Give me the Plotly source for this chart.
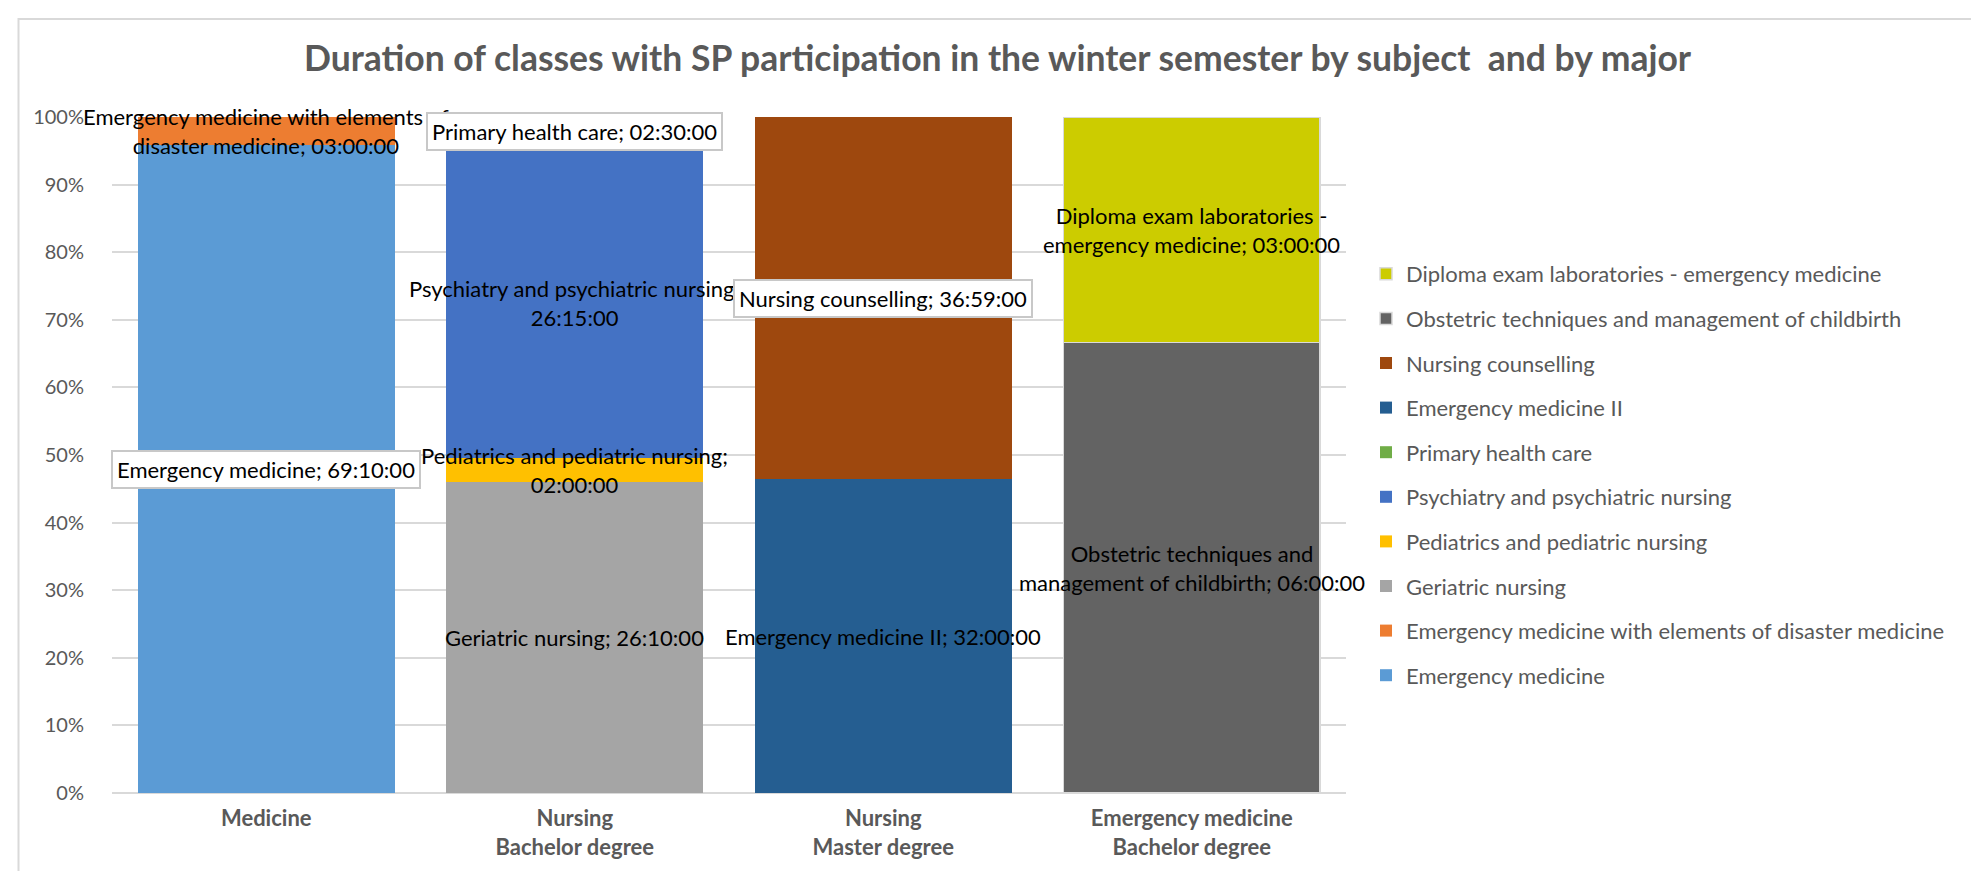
import plotly.graph_objects as go

# ---------------- data ----------------
majors = ["Medicine", "Nursing<br>Bachelor degree", "Nursing<br>Master degree",
          "Emergency medicine<br>Bachelor degree"]

subjects = [
    "Emergency medicine",
    "Emergency medicine with elements of disaster medicine",
    "Geriatric nursing",
    "Pediatrics and pediatric nursing",
    "Psychiatry and psychiatric nursing",
    "Primary health care",
    "Emergency medicine II",
    "Nursing counselling",
    "Obstetric techniques and management of childbirth",
    "Diploma exam laboratories - emergency medicine",
]
subject_major = [0, 0, 1, 1, 1, 1, 2, 2, 3, 3]
durations = ["69:10:00", "03:00:00", "26:10:00", "02:00:00", "26:15:00",
             "02:30:00", "32:00:00", "36:59:00", "06:00:00", "03:00:00"]
label_texts = [
    "Emergency medicine; 69:10:00",
    "Emergency medicine with elements of<br>disaster medicine; 03:00:00",
    "Geriatric nursing; 26:10:00",
    "Pediatrics and pediatric nursing;<br>02:00:00",
    "Psychiatry and psychiatric nursing;<br>26:15:00",
    "Primary health care; 02:30:00",
    "Emergency medicine II; 32:00:00",
    "Nursing counselling; 36:59:00",
    "Obstetric techniques and<br>management of childbirth; 06:00:00",
    "Diploma exam laboratories -<br>emergency medicine; 03:00:00",
]
label_boxed = [True, False, False, False, False, True, False, True, False, False]

colors = ["#5B9BD5", "#ED7D31", "#A5A5A5", "#FFC000", "#4472C4", "#70AD47",
          "#255E91", "#9E480E", "#636363", "#CCCC00"]
outlined = [False] * 8 + [True, True]


def to_hours(s):
    h, m, sec = (int(p) for p in s.split(":"))
    return h + m / 60 + sec / 3600


hours = [to_hours(d) for d in durations]

# ---------------- geometry ----------------
W, H = 1979, 871
PL, PR, PT, PB = 104, 1338, 109, 785  # plot area in px
GREY = "#595959"
FONT = "Lato"

fig = go.Figure()
n = len(subjects)
for i, name in enumerate(subjects):
    y = [None] * len(majors)
    y[subject_major[i]] = hours[i]
    fig.add_trace(go.Bar(
        x=majors, y=y, name=name, legendgroup=name, legendrank=100 + (n - i),
        marker=dict(color=colors[i],
                    line=dict(color="#D9D9D9" if outlined[i] else colors[i],
                              width=1.5 if outlined[i] else 0)),
        hoverinfo="skip",
    ))

# segment centres (percent) for labels
totals = [0.0] * len(majors)
for i in range(n):
    totals[subject_major[i]] += hours[i]
cum = [0.0] * len(majors)
plain, boxed = [], []
for i in range(n):
    m = subject_major[i]
    pct = hours[i] / totals[m] * 100
    centre = cum[m] + pct / 2
    cum[m] += pct
    ann = dict(x=majors[m], y=centre, xref="x", yref="y", text=label_texts[i],
               showarrow=False, font=dict(family=FONT, size=22, color="#000000"),
               align="center")
    if label_boxed[i]:
        ann.update(bgcolor="white", bordercolor="#C8C8C8", borderwidth=2, borderpad=4)
        boxed.append(ann)
    else:
        plain.append(ann)

pw, ph = PR - PL, PB - PT


def px_x(px):
    return (px - PL) / pw


def px_y(py):
    return (PB - py) / ph


fig.update_layout(
    width=W, height=H,
    margin=dict(l=PL, r=W - PR, t=PT, b=H - PB, autoexpand=False),
    paper_bgcolor="white", plot_bgcolor="white",
    barmode="stack", barnorm="percent", bargap=0.167,
    title=dict(text="Duration of classes with SP participation in the winter semester by subject  and by major",
               x=0.5, xanchor="center", y=1 - 51 / H, yanchor="middle",
               font=dict(family=FONT, size=35.5, color=GREY, weight="bold")),
    font=dict(family=FONT, color=GREY),
    xaxis=dict(type="category", range=[-0.5, len(majors) - 0.5], autorange=False,
               showgrid=False, showline=False, ticks="",
               tickfont=dict(family=FONT, size=22, color=GREY, weight="bold"),
               ticklabelstandoff=10),
    yaxis=dict(range=[0, 100], autorange=False, dtick=10, ticksuffix="%", showgrid=True,
               gridcolor="#D9D9D9", gridwidth=1.5, zeroline=True, zerolinecolor="#D9D9D9",
               zerolinewidth=1.5, showline=False, ticks="",
               tickfont=dict(family=FONT, size=20, color=GREY), ticklabelstandoff=27),
    legend=dict(x=px_x(1358), xanchor="left", y=px_y(245), yanchor="top",
                traceorder="grouped", tracegroupgap=13,
                font=dict(family=FONT, size=22, color=GREY), bgcolor="rgba(0,0,0,0)"),
    annotations=plain + boxed,
    shapes=[dict(type="rect", xref="paper", yref="paper",
                 x0=px_x(10.5), x1=px_x(1975), y0=px_y(H + 5), y1=px_y(11),
                 line=dict(color="#D9D9D9", width=2), layer="below")],
)

fig.write_html("out.html")
